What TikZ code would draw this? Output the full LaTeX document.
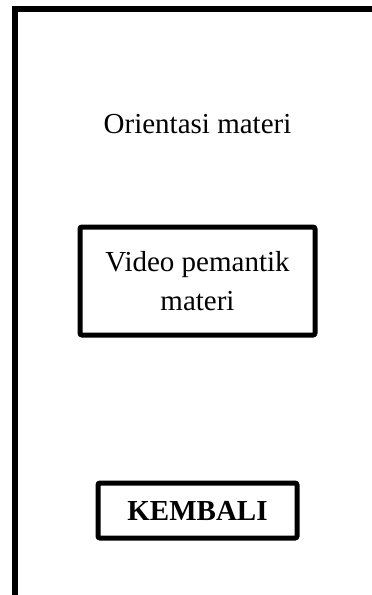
\documentclass[tikz,border=0pt]{standalone}
\usepackage{fontspec}
\setmainfont{Liberation Serif}
\begin{document}
\begin{tikzpicture}[x=1pt,y=-1pt,
  frame/.style={line width=5.5pt,line join=miter},
  boxed/.style={draw,line width=5pt,rounded corners=2pt,align=center,inner sep=0pt},
  label/.style={font=\fontsize{29}{39}\selectfont}]
  \useasboundingbox (0,0) rectangle (372,595);
  % page frame: left and top edges
  \coordinate (fl) at (15,600);
  \coordinate (fr) at (380,9);
  \draw[frame] (fl) |- (fr);
  % heading
  \node[label,anchor=base] (title) at (197.5,133) {Orientasi materi};
  % video box
  \node[boxed,label,minimum width=235pt,minimum height=108pt] (video) at (197.5,281)
    {Video pemantik\\materi};
  % back button
  \node[boxed,label,font=\fontsize{29}{39}\selectfont\bfseries,minimum width=199pt,minimum height=55pt] (back) at (197.5,510.5)
    {KEMBALI};
\end{tikzpicture}
\end{document}
